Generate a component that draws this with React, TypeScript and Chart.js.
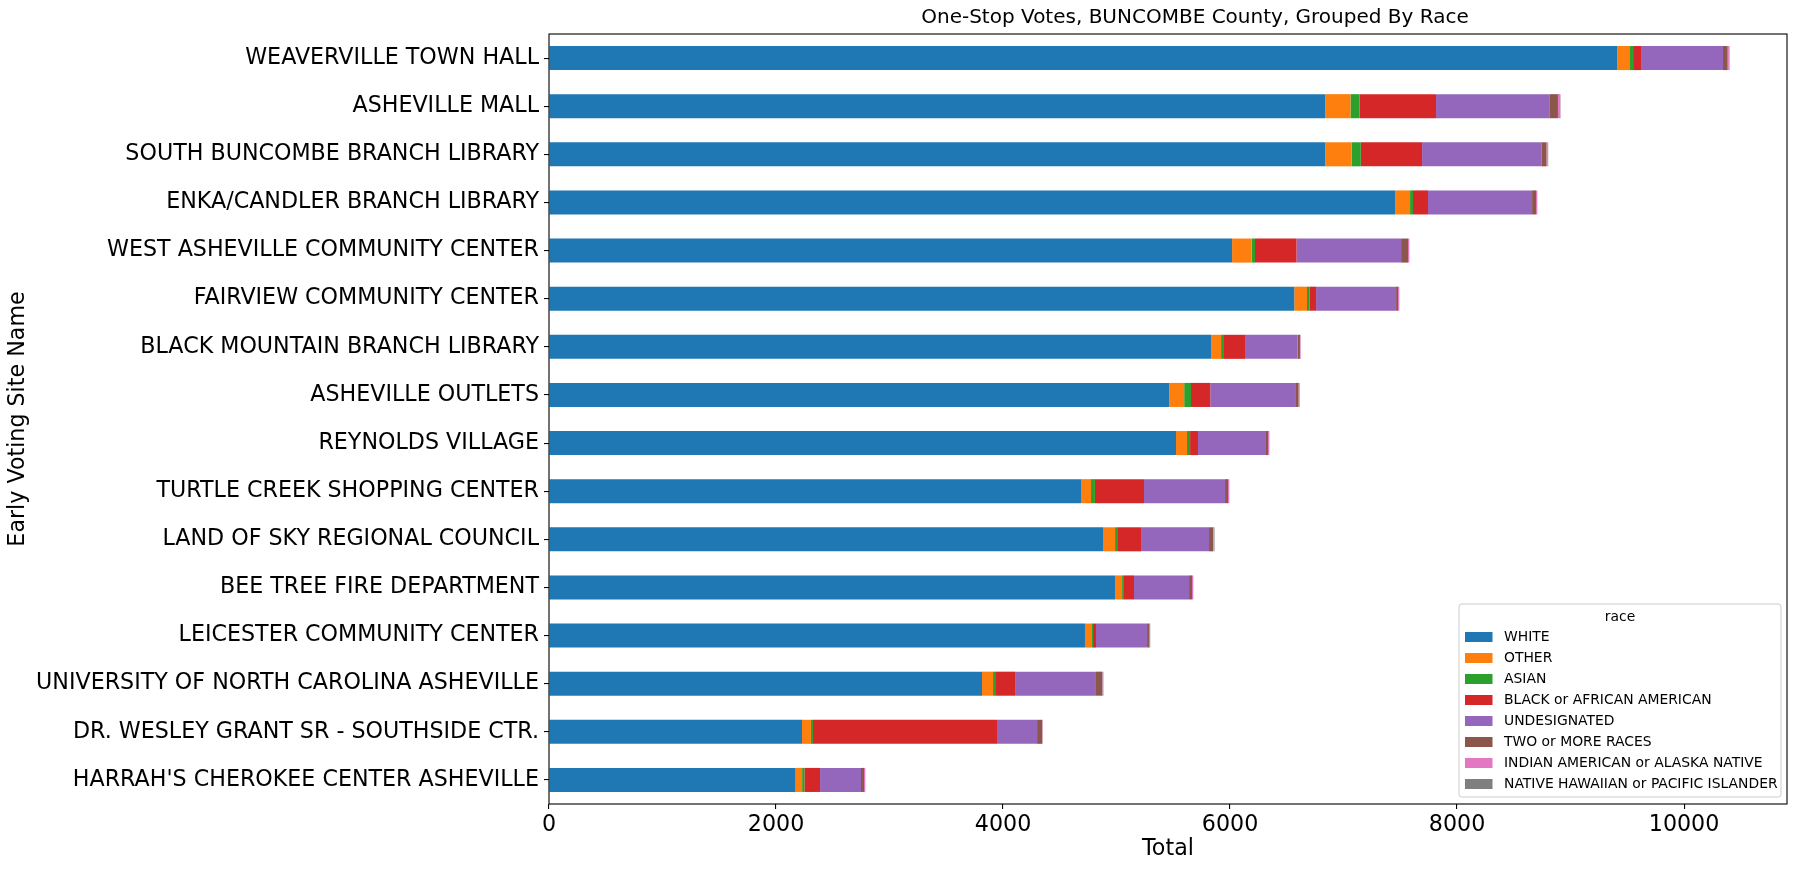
import React, { useEffect, useRef } from "react";
import { Chart, registerables } from "chart.js";

Chart.register(...registerables);

const categories = [
  "WEAVERVILLE TOWN HALL",
  "ASHEVILLE MALL",
  "SOUTH BUNCOMBE BRANCH LIBRARY",
  "ENKA/CANDLER BRANCH LIBRARY",
  "WEST ASHEVILLE COMMUNITY CENTER",
  "FAIRVIEW COMMUNITY CENTER",
  "BLACK MOUNTAIN BRANCH LIBRARY",
  "ASHEVILLE OUTLETS",
  "REYNOLDS VILLAGE",
  "TURTLE CREEK SHOPPING CENTER",
  "LAND OF SKY REGIONAL COUNCIL",
  "BEE TREE FIRE DEPARTMENT",
  "LEICESTER COMMUNITY CENTER",
  "UNIVERSITY OF NORTH CAROLINA ASHEVILLE",
  "DR. WESLEY GRANT SR - SOUTHSIDE CTR.",
  "HARRAH'S CHEROKEE CENTER ASHEVILLE",
];

const white = [9410, 6838, 6838, 7454, 6018, 6566, 5833, 5465, 5524, 4687, 4881, 4987, 4722, 3815, 2229, 2172];
const other = [114, 223, 233, 132, 172, 112, 88, 131, 97, 88, 106, 62, 62, 97, 79, 58];
const asian = [27, 80, 81, 26, 30, 21, 26, 60, 27, 35, 26, 17, 9, 26, 18, 20];
const black = [70, 674, 540, 132, 366, 59, 185, 170, 70, 432, 203, 88, 26, 168, 1621, 138];
const undesignated = [722, 1003, 1055, 917, 921, 705, 464, 748, 599, 714, 599, 485, 450, 713, 353, 361];
const twoOrMore = [41, 71, 41, 35, 61, 17, 20, 30, 18, 26, 35, 26, 17, 53, 44, 26];
const indian = [11, 20, 12, 9, 9, 9, 5, 9, 9, 9, 5, 9, 9, 3, 3, 9];
const hawaiian = [5, 3, 3, 2, 2, 2, 2, 2, 2, 2, 8, 2, 2, 9, 3, 2];

const seriesNames = [
  "WHITE",
  "OTHER",
  "ASIAN",
  "BLACK or AFRICAN AMERICAN",
  "UNDESIGNATED",
  "TWO or MORE RACES",
  "INDIAN AMERICAN or ALASKA NATIVE",
  "NATIVE HAWAIIAN or PACIFIC ISLANDER",
];
const seriesValues = [white, other, asian, black, undesignated, twoOrMore, indian, hawaiian];
const colors = ["#1f77b4", "#ff7f0e", "#2ca02c", "#d62728", "#9467bd", "#8c564b", "#e377c2", "#7f7f7f"];

const xTicks = [0, 2000, 4000, 6000, 8000, 10000];
const chartTitle = "One-Stop Votes, BUNCOMBE County, Grouped By Race";
const xTitle = "Total";
const yTitle = "Early Voting Site Name";
const legendTitle = "race";

const FONT = "'DejaVu Sans', sans-serif";
const BIG = 22.2;

const framePlugin = {
  id: "frame",
  afterDraw(chart: any) {
    const { ctx, chartArea } = chart;
    const { left, right, top, bottom } = chartArea;
    ctx.save();
    ctx.strokeStyle = "#000";
    ctx.lineWidth = 1.1;
    ctx.strokeRect(left, top, right - left, bottom - top);

    ctx.fillStyle = "#000";
    ctx.font = `20px ${FONT}`;
    ctx.textAlign = "center";
    ctx.textBaseline = "middle";
    ctx.fillText(chartTitle, 1195, 18);

    const fs = 13.9;
    const bx = 1459, by = 604, bw = 1781 - 1459, bh = 797 - 604;
    const r = 3;
    ctx.beginPath();
    ctx.moveTo(bx + r, by);
    ctx.lineTo(bx + bw - r, by);
    ctx.quadraticCurveTo(bx + bw, by, bx + bw, by + r);
    ctx.lineTo(bx + bw, by + bh - r);
    ctx.quadraticCurveTo(bx + bw, by + bh, bx + bw - r, by + bh);
    ctx.lineTo(bx + r, by + bh);
    ctx.quadraticCurveTo(bx, by + bh, bx, by + bh - r);
    ctx.lineTo(bx, by + r);
    ctx.quadraticCurveTo(bx, by, bx + r, by);
    ctx.closePath();
    ctx.fillStyle = "rgba(255,255,255,0.8)";
    ctx.fill();
    ctx.strokeStyle = "#cccccc";
    ctx.lineWidth = 1;
    ctx.stroke();

    ctx.font = `${fs}px ${FONT}`;
    ctx.fillStyle = "#000";
    ctx.textAlign = "center";
    ctx.fillText(legendTitle, bx + bw / 2, 617);
    ctx.textAlign = "left";
    chart.data.datasets.forEach((ds: any, i: number) => {
      const cy = 637 + i * 21;
      ctx.fillStyle = ds.backgroundColor;
      ctx.fillRect(1465, cy - 5, 27.5, 10);
      ctx.fillStyle = "#000";
      ctx.fillText(ds.label, 1504, cy + 0.5);
    });
    ctx.restore();
  },
};

export default function App() {
  const ref = useRef<HTMLCanvasElement>(null);
  useEffect(() => {
    document.body.style.margin = "0";
    Chart.defaults.font.family = FONT;
    const chart = new Chart(ref.current as HTMLCanvasElement, {
      type: "bar",
      data: {
        labels: categories,
        datasets: seriesNames.map((name, i) => ({
          label: name,
          data: seriesValues[i],
          backgroundColor: colors[i],
          borderWidth: 0,
          categoryPercentage: 1,
          barPercentage: 0.5,
        })),
      },
      options: {
        indexAxis: "y",
        animation: false,
        responsive: false,
        devicePixelRatio: 1,
        layout: { padding: { left: 0, right: 11, top: 34, bottom: 0 } },
        plugins: {
          legend: { display: false },
          title: { display: false },
          tooltip: { enabled: false },
        },
        scales: {
          x: {
            stacked: true,
            min: 0,
            max: 10907,
            afterBuildTicks: (scale: any) => {
              scale.ticks = xTicks.map((v) => ({ value: v }));
            },
            afterFit: (scale: any) => {
              scale.height = 65;
            },
            ticks: {
              color: "#000",
              font: { size: BIG, family: FONT },
              padding: 3,
              maxRotation: 0,
              autoSkip: false,
              callback: (v: any) => String(v),
            },
            grid: {
              display: true,
              drawOnChartArea: false,
              drawTicks: true,
              tickLength: 5,
              color: "#000",
              lineWidth: 1.1,
            },
            border: { display: false },
            title: {
              display: true,
              text: xTitle,
              color: "#000",
              font: { size: BIG, family: FONT },
              padding: { top: 0, bottom: 6.7 },
            },
          },
          y: {
            stacked: true,
            afterFit: (scale: any) => {
              scale.width = 549;
            },
            ticks: {
              color: "#000",
              font: { size: BIG, family: FONT },
              padding: 5,
              autoSkip: false,
            },
            grid: {
              display: true,
              drawOnChartArea: false,
              drawTicks: true,
              tickLength: 5,
              color: "#000",
              lineWidth: 1.1,
              offset: false,
            },
            border: { display: false },
            title: {
              display: true,
              text: yTitle,
              color: "#000",
              font: { size: BIG, family: FONT },
              padding: { top: 5, bottom: 0 },
            },
          },
        },
      },
      plugins: [framePlugin],
    } as any);
    return () => chart.destroy();
  }, []);
  return (
    <div style={{ width: 1798, height: 869 }}>
      <canvas ref={ref} width={1798} height={869} style={{ display: "block", width: 1798, height: 869 }} />
    </div>
  );
}
